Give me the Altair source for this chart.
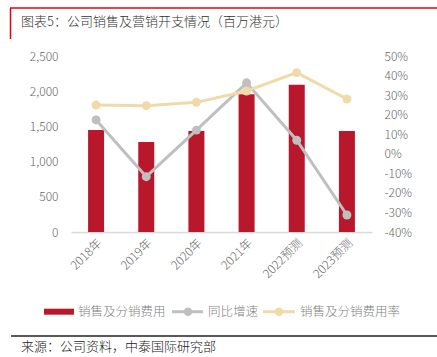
import altair as alt
import pandas as pd

# ---- data ----
years = ["2018年", "2019年", "2020年", "2021年", "2022预测", "2023预测"]
expense = [1450, 1280, 1435, 1955, 2090, 1435]          # 百万港元
growth = [17.3, -11.7, 12.1, 36.3, 6.9, -31.3]          # %
rate = [24.9, 24.6, 26.3, 32.1, 41.5, 28.0]             # %
series_names = ["销售及分销费用", "同比增速", "销售及分销费用率"]
left_ticks = [0, 500, 1000, 1500, 2000, 2500]
right_ticks = [-40, -30, -20, -10, 0, 10, 20, 30, 40, 50]
title_text = "图表5：公司销售及营销开支情况（百万港元）"
source_text = "来源：公司资料，中泰国际研究部"

RED = "#B8172C"
GRAY = "#BFBFBF"
BEIGE = "#F0DAAA"
FONT = "Noto Sans CJK SC"
LAB = "#666666"
WT = 300

bar_df = pd.DataFrame({"year": years, "value": expense})
line_df = pd.DataFrame({
    "year": years * 2,
    "series": [series_names[1]] * len(years) + [series_names[2]] * len(years),
    "pct": growth + rate,
})
one = pd.DataFrame({"k": [0]})

xenc = alt.X("year:N", sort=years, title=None,
             scale=alt.Scale(paddingInner=0, paddingOuter=0),
             axis=alt.Axis(labelAngle=-45, labelFontSize=12, labelColor=LAB,
                           labelFont=FONT, labelFontWeight=WT, ticks=False,
                           domainColor="#D9D9D9", domainWidth=1.5, labelPadding=5))

bars = alt.Chart(bar_df).mark_bar(size=16, color=RED).encode(
    x=xenc,
    y=alt.Y("value:Q", title=None,
            scale=alt.Scale(domain=[0, 2500], nice=False, zero=True),
            axis=alt.Axis(values=left_ticks, format=",d", orient="left",
                          domain=False, ticks=False, grid=False,
                          labelFontSize=12, labelColor=LAB, labelFont=FONT,
                          labelFontWeight=WT, labelPadding=13)),
)

lines = alt.Chart(line_df).mark_line(
    strokeWidth=3,
    point=alt.OverlayMarkDef(filled=True, size=80, opacity=1),
).encode(
    x=alt.X("year:N", sort=years),
    y=alt.Y("pct:Q", title=None,
            scale=alt.Scale(domain=[-40, 50], nice=False, zero=False),
            axis=alt.Axis(values=right_ticks, orient="right", labelExpr="datum.value + '%'",
                          domain=False, ticks=False, grid=False,
                          labelFontSize=12, labelColor=LAB, labelFont=FONT,
                          labelFontWeight=WT, labelPadding=12)),
    color=alt.Color("series:N", legend=None,
                    scale=alt.Scale(domain=series_names[1:], range=[GRAY, BEIGE])),
    order=alt.Order("series:N"),
)

# ---- decorations (frame, title, legend, source), positions relative to plot origin ----
def rule(x, x2, y, y2, color, w):
    return alt.Chart(one).mark_rule(color=color, strokeWidth=w).encode(
        x=alt.value(x), x2=alt.value(x2), y=alt.value(y), y2=alt.value(y2))

def txt(s, x, y, size=13, color="#333333"):
    return alt.Chart(one).mark_text(align="left", baseline="middle", font=FONT,
                                    fontSize=size, fontWeight=WT, color=color).encode(
        x=alt.value(x), y=alt.value(y), text=alt.value(s))

def dot(x, y, color):
    return alt.Chart(one).mark_point(filled=True, size=70, opacity=1, color=color).encode(
        x=alt.value(x), y=alt.value(y))

LY = 255.7
deco = [
    rule(-61, 366, -48, -48, "#E60012", 1.5),
    rule(-60.5, -60.5, -48, -17, "#E60012", 1.5),
    txt(title_text, -50, -34, 13, "#333333"),
    alt.Chart(one).mark_rect(color=RED).encode(
        x=alt.value(-27), x2=alt.value(3), y=alt.value(LY - 3), y2=alt.value(LY + 3)),
    txt(series_names[0], 7, LY, 12.5, "#7F7F7F"),
    rule(101, 132, LY, LY, GRAY, 3),
    dot(117, LY, GRAY),
    txt(series_names[1], 137, LY, 12.5, "#7F7F7F"),
    rule(192, 224, LY, LY, BEIGE, 3),
    dot(208, LY, BEIGE),
    txt(series_names[2], 229, LY, 12.5, "#7F7F7F"),
    rule(-60, 366, 280, 280, "#595959", 2),
    txt(source_text, -50, 291, 13, "#222222"),
]

chart = alt.layer(bars, lines, *deco).resolve_scale(y="independent").properties(
    width=301, height=176,
    autosize=alt.AutoSizeParams(type="none"),
    padding={"left": 71, "top": 56, "right": 65, "bottom": 125},
    background="white",
).configure_view(stroke=None)

chart.save("out.html", embed_options={"renderer": "svg", "actions": False})
